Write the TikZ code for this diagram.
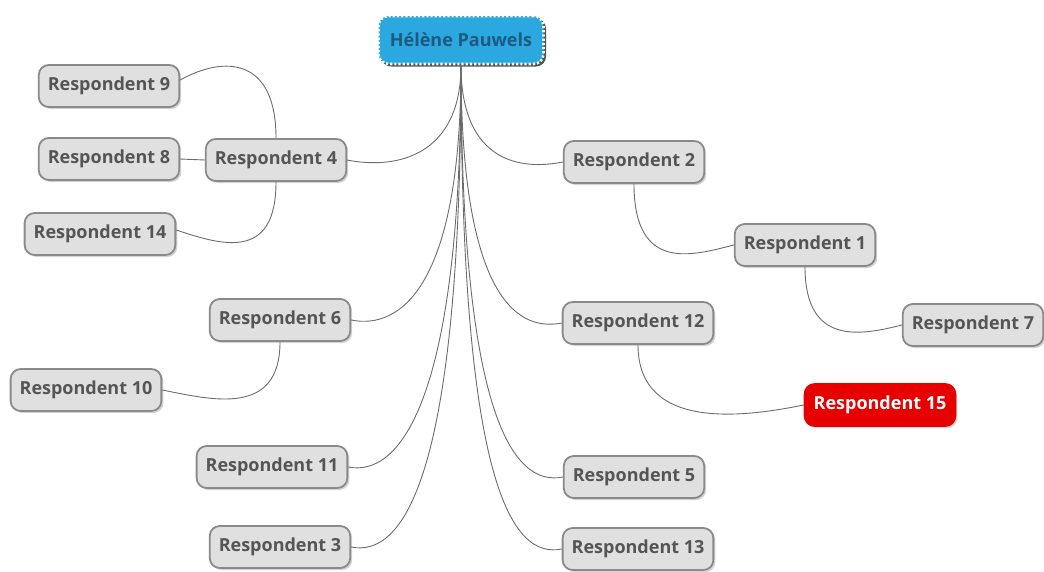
\documentclass[tikz,border=0pt]{standalone}
\usepackage{fontspec}
\setmainfont{Open Sans}
\usetikzlibrary{shadows}
\definecolor{boxgray}{HTML}{E0E0E0}
\definecolor{edgegray}{HTML}{8A8A8A}
\definecolor{textgray}{HTML}{555555}
\definecolor{rootblue}{HTML}{2AA8DF}
\definecolor{rootink}{HTML}{1D5A80}
\definecolor{hotred}{HTML}{E60000}
\begin{document}
\begin{tikzpicture}[x=1pt,y=-1pt,
  resp/.style={draw=edgegray, fill=boxgray, line width=1.8pt, rounded corners=10pt,
    text=textgray, font=\fontsize{18}{20}\selectfont\bfseries,
    minimum height=42pt, inner xsep=9pt, drop shadow={shadow xshift=2pt, shadow yshift=-2pt, opacity=0.35}},
  hot/.style={resp, fill=hotred, draw=hotred, text=white},
  rootbox/.style={fill=rootblue, draw=white, dash pattern=on 2.2pt off 2pt, line width=2.6pt,
    rounded corners=10pt, text=rootink, font=\fontsize{18}{20}\selectfont\bfseries,
    minimum height=48pt, minimum width=165pt,
    drop shadow={shadow xshift=2.5pt, shadow yshift=-2.5pt, opacity=0.85, fill=black!80}},
  link/.style={draw=gray!85!black, line width=0.9pt}]
\useasboundingbox (0,0) rectangle (1044,571);

\node[rootbox] (root) at (461,40) {Hélène Pauwels};

% left side
\node[resp] (r4) at (276,160) {Respondent 4};
\node[resp] (r9) at (109,86) {Respondent 9};
\node[resp] (r8) at (109,159) {Respondent 8};
\node[resp] (r14) at (100,234) {Respondent 14};
\node[resp] (r6) at (280,320) {Respondent 6};
\node[resp] (r10) at (86,390) {Respondent 10};
\node[resp] (r11) at (272,467) {Respondent 11};
\node[resp] (r3) at (280,547) {Respondent 3};

% right side
\node[resp] (r2) at (634,162) {Respondent 2};
\node[resp] (r1) at (805,245) {Respondent 1};
\node[resp] (r7) at (973,325) {Respondent 7};
\node[resp] (r12) at (638,323) {Respondent 12};
\node[hot] (r15) at (880,405) {Respondent 15};
\node[resp] (r5) at (634,477) {Respondent 5};
\node[resp] (r13) at (638,549) {Respondent 13};

% from the root
\draw[link] (root.south) .. controls +(0,90) and +(50,10) .. (r4.east);
\draw[link] (root.south) .. controls +(0,220) and +(50,10) .. (r6.east);
\draw[link] (root.south) .. controls +(0,340) and +(50,10) .. (r11.east);
\draw[link] (root.south) .. controls +(0,420) and +(50,10) .. (r3.east);
\draw[link] (root.south) .. controls +(0,90) and +(-50,10) .. (r2.west);
\draw[link] (root.south) .. controls +(0,220) and +(-50,10) .. (r12.west);
\draw[link] (root.south) .. controls +(0,350) and +(-50,10) .. (r5.west);
\draw[link] (root.south) .. controls +(0,420) and +(-50,10) .. (r13.west);

% sub branches
\draw[link] (r4.north) .. controls +(0,-80) and +(45,-25) .. ([yshift=6pt]r9.east);
\draw[link] (r4.west) -- (r8.east);
\draw[link] (r4.south) .. controls +(0,80) and +(45,15) .. ([yshift=4pt]r14.east);
\draw[link] (r6.south) .. controls +(0,75) and +(50,10) .. (r10.east);
\draw[link] (r2.south) .. controls +(0,90) and +(-40,10) .. (r1.west);
\draw[link] (r1.south) .. controls +(0,80) and +(-40,10) .. (r7.west);
\draw[link] (r12.south) .. controls +(0,90) and +(-50,10) .. (r15.west);
\end{tikzpicture}
\end{document}
